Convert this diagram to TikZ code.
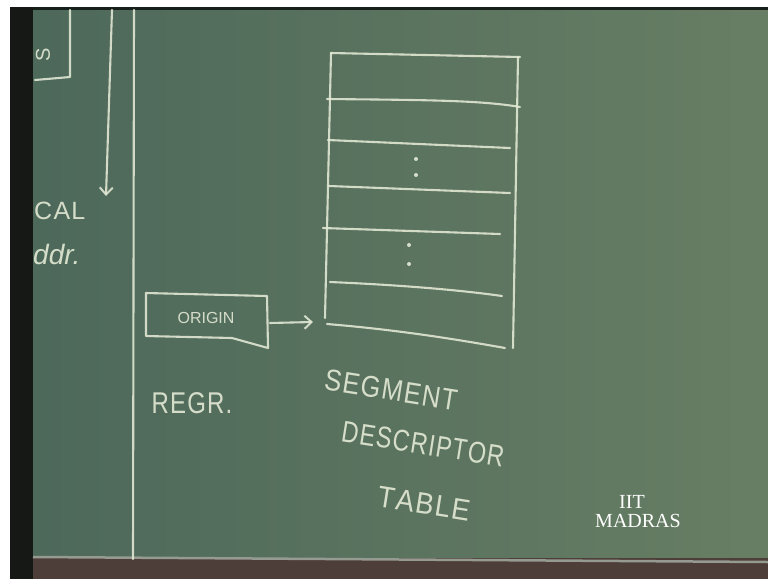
\documentclass[tikz,border=0pt]{standalone}
\usepackage{fontspec}
\setmainfont{Liberation Sans}
\newfontfamily\chalkfont[Kerning=Off, LetterSpace=5]{Liberation Sans}
\newfontfamily\logofont{Liberation Serif}
\usetikzlibrary{arrows.meta}
\definecolor{boardL}{RGB}{76,104,90}
\definecolor{boardR}{RGB}{104,126,100}
\definecolor{chalk}{RGB}{228,234,214}
\definecolor{frameblack}{RGB}{22,24,22}
\definecolor{tray}{RGB}{78,62,58}
\definecolor{trayline}{RGB}{150,155,145}
\tikzset{
  chalkline/.style={draw=chalk, line width=2.1pt, line cap=round, line join=round, opacity=0.88},
  chalkarrow/.style={chalkline, -{Straight Barb[length=7pt,width=13pt,line width=2pt]}},
  chalktext/.style={text=chalk, opacity=0.9, inner sep=0pt, font=\chalkfont\fontsize{30}{30}\selectfont},
  smalltext/.style={text=chalk, opacity=0.9, inner sep=0pt, font=\fontsize{16}{16}\selectfont},
  logotext/.style={text=white, inner sep=0pt, font=\logofont\fontsize{20}{20}\selectfont},
  dotmark/.style={circle, fill=chalk, inner sep=0pt, minimum size=4pt, opacity=0.9}
}
\begin{document}
\begin{tikzpicture}[x=1pt, y=-1pt]
\useasboundingbox (0,0) rectangle (768,579);
% board
\fill[white] (0,0) rectangle (768,579);
\shade[left color=boardL, right color=boardR] (10,7) rectangle (768,560);
\fill[black!70!boardL] (10,7) rectangle (768,10);
\fill[frameblack] (10,7) rectangle (33,579);
\fill[tray] (33,558) rectangle (768,579);
\draw[trayline, line width=2.5pt] (33,557) -- (768,562);
% divider line
\draw[chalkline] (134,10) -- (133,559);
% partial box at top left
\draw[chalkline] (70,10) -- (70,77) -- (35,80);
\node[smalltext, rotate=90, font=\fontsize{20}{20}\selectfont] (frag) at (43,55) {S};
% arrow down
\coordinate (atop) at (112,10);
\coordinate (abot) at (106,196);
\draw[chalkarrow] (atop) -- (abot);
% logical addr. fragments
\node[chalktext, anchor=west, font=\chalkfont\fontsize{25}{25}\selectfont] (cal) at (34,211) {CAL};
\node[chalktext, anchor=west, font=\fontsize{28}{28}\selectfont\itshape] (addr) at (33,254) {ddr.};
% origin register
\draw[chalkline] (146,293) -- (267,296) -- (268,348) -- (232,338) -- (146,336) -- cycle;
\node[smalltext] (origin) at (206,318) {ORIGIN};
\coordinate (oright) at (270,323);
\coordinate (tblin) at (313,322);
\draw[chalkarrow] (oright) -- (tblin);
\node[chalktext, xscale=0.8] (regr) at (192,403) {REGR.};
% segment descriptor table
\draw[chalkline] (331,53) -- (325,318);
\draw[chalkline] (518,57) -- (513,348);
\draw[chalkline] (331,53) -- (520,57);
\draw[chalkline] (327,99) .. controls (420,100) and (480,100) .. (520,107);
\draw[chalkline] (328,140) -- (510,148);
\draw[chalkline] (329,186) -- (510,193);
\draw[chalkline] (323,228) -- (500,234);
\draw[chalkline] (330,282) .. controls (400,285) and (460,290) .. (502,296);
\draw[chalkline] (327,324) .. controls (400,330) and (460,340) .. (505,348);
\node[dotmark] (d1) at (416,159) {};
\node[dotmark] (d2) at (416,175) {};
\node[dotmark] (d3) at (409,245) {};
\node[dotmark] (d4) at (409,264) {};
% labels
\node[chalktext, rotate=-9, xscale=0.85] (seg) at (391,390) {SEGMENT};
\node[chalktext, rotate=-9, xscale=0.78] (desc) at (423,444) {DESCRIPTOR};
\node[chalktext, rotate=-9, xscale=0.92] (tab) at (424,504) {TABLE};
% logo
\node[logotext] (iit) at (632,502) {IIT};
\node[logotext] (madras) at (638,521) {MADRAS};
\end{tikzpicture}
\end{document}
